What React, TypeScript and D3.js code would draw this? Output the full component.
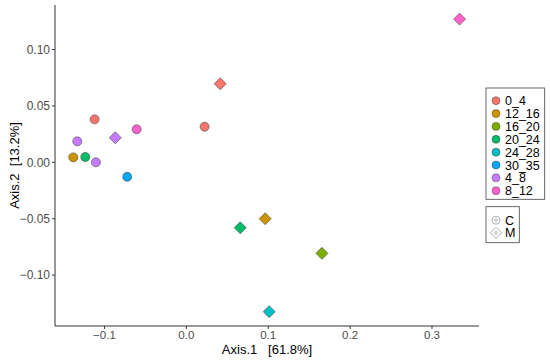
import React from "react";
import * as d3 from "d3";

const groups = ["0_4", "12_16", "16_20", "20_24", "24_28", "30_35", "4_8", "8_12"];
const groupColors = ["#F8766D", "#CD9600", "#7CAE00", "#00BE67", "#00BFC4", "#00A9FF", "#C77CFF", "#FF61CC"];
const types = ["C", "M"];

const pointGroup = ["0_4", "0_4", "0_4", "12_16", "12_16", "16_20", "20_24", "20_24", "24_28", "30_35", "4_8", "4_8", "4_8", "8_12", "8_12"];
const pointType = ["C", "C", "M", "C", "M", "M", "C", "M", "M", "C", "C", "C", "M", "C", "M"];
const axis1 = [-0.112, 0.0223, 0.0414, -0.1381, 0.0963, 0.1656, -0.1234, 0.0658, 0.1012, -0.0722, -0.1332, -0.1104, -0.0868, -0.0607, 0.3337];
const axis2 = [0.0381, 0.0316, 0.0697, 0.0044, -0.05, -0.0807, 0.0047, -0.058, -0.1324, -0.0128, 0.0186, 0.0, 0.0218, 0.0293, 0.127];

const xTicks = [-0.1, 0.0, 0.1, 0.2, 0.3];
const yTicks = [-0.1, -0.05, 0.0, 0.05, 0.1];

export default function App() {
  const W = 550, H = 361;
  const left = 55, right = 479, top = 5, bottom = 326;
  const x = d3.scaleLinear().domain([-0.1604, 0.3574]).range([left, right]);
  const y = d3.scaleLinear().domain([-0.1451, 0.1395]).range([bottom, top]);
  const color = d3.scaleOrdinal<string, string>().domain(groups).range(groupColors);
  const axisCol = "#333333";
  const tickCol = "#4D4D4D";
  const font = "'Liberation Sans', Arial, Helvetica, sans-serif";
  const diamond = (cx: number, cy: number, r: number) =>
    `M${cx},${cy - r}L${cx + r},${cy}L${cx},${cy + r}L${cx - r},${cy}Z`;

  const legX = 486, legY = 88, legW = 58.7, legH = 111.3, rowH = 12.86;
  const leg2Y = 206.7, leg2W = 33.3, leg2H = 36;

  return (
    <svg width={W} height={H} style={{ position: "absolute", left: 0, top: 0, fontFamily: font }}>
      <rect width={W} height={H} fill="white" />
      {/* axes */}
      <line x1={left} x2={left} y1={top} y2={bottom} stroke={axisCol} strokeWidth={1} />
      <line x1={left} x2={right} y1={bottom} y2={bottom} stroke={axisCol} strokeWidth={1} />
      {xTicks.map((t) => (
        <g key={"x" + t}>
          <line x1={x(t)} x2={x(t)} y1={bottom} y2={bottom + 3} stroke={axisCol} />
          <text x={x(t)} y={339} textAnchor="middle" fontSize={11.5} fill={tickCol}>
            {d3.format(".1f")(t)}
          </text>
        </g>
      ))}
      {yTicks.map((t) => (
        <g key={"y" + t}>
          <line x1={left - 3} x2={left} y1={y(t)} y2={y(t)} stroke={axisCol} />
          <text x={left - 5} y={y(t)} dy="0.35em" textAnchor="end" fontSize={12} fill={tickCol}>
            {d3.format(".2f")(t)}
          </text>
        </g>
      ))}
      <text x={(left + right) / 2} y={354} textAnchor="middle" fontSize={13} fill="black" xmlSpace="preserve">
        {"Axis.1   [61.8%]"}
      </text>
      <text transform={`translate(19,${(top + bottom) / 2}) rotate(-90)`} textAnchor="middle" fontSize={13} fill="black" xmlSpace="preserve">
        {"Axis.2  [13.2%]"}
      </text>
      {/* points */}
      {axis1.map((v, i) => {
        const cx = x(v), cy = y(axis2[i]);
        const fill = color(pointGroup[i]);
        return pointType[i] === "C" ? (
          <circle key={i} cx={cx} cy={cy} r={4.5} fill={fill} stroke="#444" strokeWidth={0.6} />
        ) : (
          <path key={i} d={diamond(cx, cy, 6)} fill={fill} stroke="#444" strokeWidth={0.6} />
        );
      })}
      {/* colour legend */}
      <rect x={legX} y={legY} width={legW} height={legH} fill="white" stroke="#444" strokeWidth={0.8} />
      {groups.map((g, i) => (
        <g key={g}>
          <circle cx={496} cy={100.7 + i * rowH} r={4} fill={color(g)} stroke="#444" strokeWidth={0.5} />
          <text x={505} y={100.7 + i * rowH} dy="0.36em" fontSize={12.5} fill="black">{g}</text>
        </g>
      ))}
      {/* shape legend */}
      <rect x={legX} y={leg2Y} width={leg2W} height={leg2H} fill="white" stroke="#444" strokeWidth={0.8} />
      {types.map((t, i) => {
        const cy = 220.2 + i * 12.6;
        return (
          <g key={t}>
            {t === "C" ? (
              <circle cx={496} cy={cy} r={4} fill="white" stroke="#888" strokeWidth={0.7} />
            ) : (
              <path d={diamond(496, cy, 5.5)} fill="white" stroke="#888" strokeWidth={0.7} />
            )}
            <circle cx={496} cy={cy} r={1.3} fill="white" stroke="#888" strokeWidth={0.6} />
            <text x={505} y={cy} dy="0.36em" fontSize={12.5} fill="black">{t}</text>
          </g>
        );
      })}
    </svg>
  );
}
